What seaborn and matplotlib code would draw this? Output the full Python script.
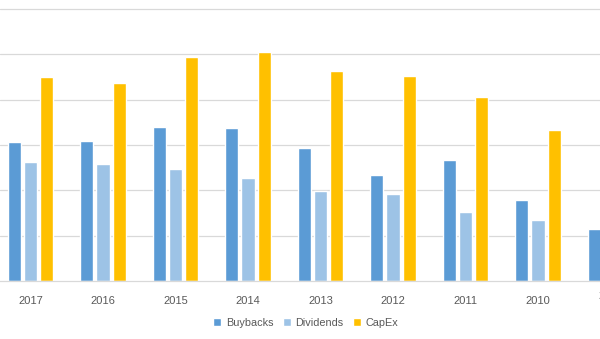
import matplotlib
matplotlib.use("Agg")
import matplotlib.pyplot as plt
import matplotlib.transforms as mtransforms
import seaborn as sns
import pandas as pd

years = ["2017", "2016", "2015", "2014", "2013", "2012", "2011", "2010", "2009"]
buybacks = [61.4, 61.8, 68.0, 67.6, 58.6, 46.8, 53.4, 35.8, 23.0]
dividends = [52.6, 51.6, 49.4, 45.4, 39.8, 38.4, 30.4, 27.0, 18.0]
capex = [90.0, 87.4, 98.8, 101.0, 92.6, 90.4, 81.2, 66.6, 58.0]
series = ["Buybacks", "Dividends", "CapEx"]
colors = ["#5B9BD5", "#9DC3E6", "#FFC000"]

df = pd.DataFrame({
    "year": years * 3,
    "value": buybacks + dividends + capex,
    "series": [s for s in series for _ in years],
})

sns.set_style("white")
plt.rcParams["font.family"] = ["Liberation Sans", "DejaVu Sans"]

fig = plt.figure(figsize=(6.0, 3.39), dpi=100)
ax = fig.add_axes([0.0, 1 - 281 / 339, 1.0, 281 / 339])

sns.barplot(data=df, x="year", y="value", hue="series", hue_order=series,
            order=years, palette=colors, width=0.675, gap=0.2,
            saturation=1, ax=ax, errorbar=None)

ax.set_xlim(-0.4207, 7.855)
ax.set_ylim(0, 124.0)
ax.set_yticks([20, 40, 60, 80, 100, 120])
ax.yaxis.grid(True, color="#D9D9D9", linewidth=0.9)
ax.set_axisbelow(True)
ax.tick_params(axis="y", left=False, labelleft=False)
ax.tick_params(axis="x", bottom=False, pad=7, labelsize=8, labelcolor="#595959")
for s in ["top", "left", "right"]:
    ax.spines[s].set_visible(False)
ax.spines["bottom"].set_color("#D9D9D9")
ax.spines["bottom"].set_linewidth(0.9)
ax.set_xlabel("")
ax.set_ylabel("")

# label of the last category, which sits mostly outside the view (cut off as in the reference)
trans = mtransforms.blended_transform_factory(ax.transData, ax.transAxes)
trans = trans + mtransforms.ScaledTranslation(0, -7.5 / 72, fig.dpi_scale_trans)
ax.text(len(years) - 1, 0, years[-1], transform=trans, ha="center", va="top",
        fontsize=8, color="#595959", clip_on=False)

handles, labels = ax.get_legend_handles_labels()
ax.get_legend().remove()
fig.legend(handles, labels, loc="center", bbox_to_anchor=(0.51, 1 - 323 / 339),
           ncol=3, frameon=False, fontsize=7.8, labelcolor="#595959",
           handlelength=0.7, handleheight=0.7, handletextpad=0.45,
           columnspacing=0.9)

fig.savefig("out.png", dpi=100)
